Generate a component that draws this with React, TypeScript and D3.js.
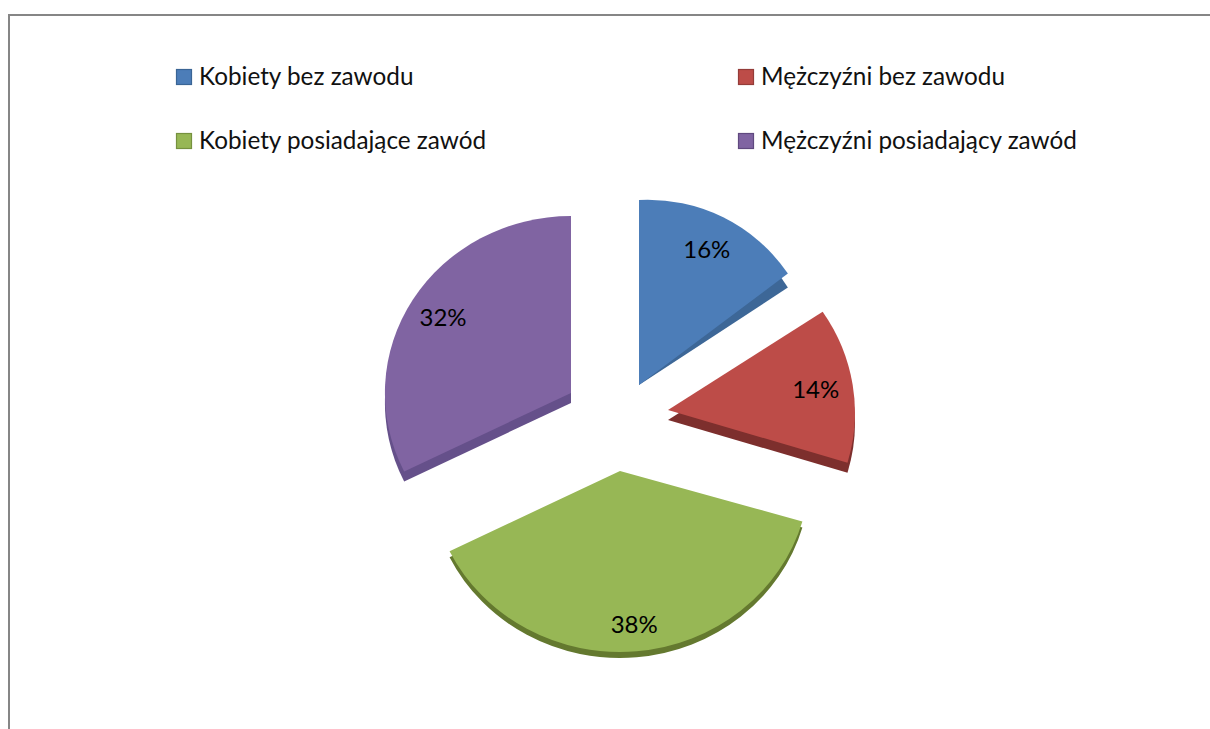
import * as d3 from "d3";

const categories = ["Kobiety bez zawodu", "Mężczyźni bez zawodu", "Kobiety posiadające zawód", "Mężczyźni posiadający zawód"];
// they round to the printed percentages
const shares = [15.5, 14, 38.2, 32.3];

const topColors = ["#4c7db8", "#bd4c48", "#97b755", "#8064a2"];
const wallColors = ["#3d6797", "#7d2f2d", "#64792f", "#65508a"];
const swatchStroke = ["#3a6595", "#943c39", "#76913f", "#60497f"];

// exploded tilted slices: each one has its own apex and foreshortening
const apexX = [639, 668, 620, 571];
const apexY = [385, 410, 471, 393];
const radiusX = [180, 187, 190, 186];
const radiusY = [185, 179, 181, 177];
const skew = [-0.05, 0.015, 0, 0];
const wallDepth = [0, 10, 6, 10];
const wallShear = [0.094, 0, 0, 0]; // blue wall tapers away towards its apex
const labelRadius = [0.805, 0.8, 0.85, 0.81];

const legendX = [176, 738];
const legendY = [77, 141];

const font = "Lato, Carlito, 'Open Sans', sans-serif";

export default function App() {
  const pie = d3.pie<number>().sort(null).value((d) => d);
  const slices = pie(shares);
  const arc = d3.arc<d3.PieArcDatum<number>>().innerRadius(0).outerRadius(1);

  return (
    <svg width={1210} height={729} style={{ position: "absolute", left: 0, top: 0, background: "#fff" }}>
      <path d="M9,729 V15 H1210" fill="none" stroke="#868686" strokeWidth={2} />

      {categories.map((name, i) => {
        const x = legendX[i % 2];
        const y = legendY[Math.floor(i / 2)];
        return (
          <g key={name}>
            <rect x={x + 0.5} y={y - 7.5} width={15} height={15} fill={topColors[i]} stroke={swatchStroke[i]} strokeWidth={1.2} />
            <text x={x + 23} y={y + 8} fontFamily={font} fontSize={24.3} fill="#111">
              {name}
            </text>
          </g>
        );
      })}

      {slices.map((s, i) => {
        const m = `matrix(${radiusX[i]},${skew[i] * radiusX[i]},0,${radiusY[i]},${apexX[i]},${apexY[i]})`;
        const wall = `matrix(${radiusX[i]},${(skew[i] + wallShear[i]) * radiusX[i]},0,${radiusY[i]},${apexX[i]},${apexY[i] + wallDepth[i]})`;
        return (
          <g key={i}>
            <path d={arc(s) ?? ""} transform={wall} fill={wallColors[i]} />
            <path d={arc(s) ?? ""} transform={m} fill={topColors[i]} />
          </g>
        );
      })}

      {slices.map((s, i) => {
        const [lx, ly] = d3
          .arc<d3.PieArcDatum<number>>()
          .innerRadius(labelRadius[i])
          .outerRadius(labelRadius[i])
          .centroid(s);
        return (
          <text
            key={i}
            x={apexX[i] + lx * radiusX[i]}
            y={apexY[i] + ly * radiusY[i] + skew[i] * radiusX[i] * lx}
            dy="0.35em"
            textAnchor="middle"
            fontFamily={font}
            fontSize={24}
            fill="#000"
          >
            {Math.round(shares[i])}%
          </text>
        );
      })}
    </svg>
  );
}
